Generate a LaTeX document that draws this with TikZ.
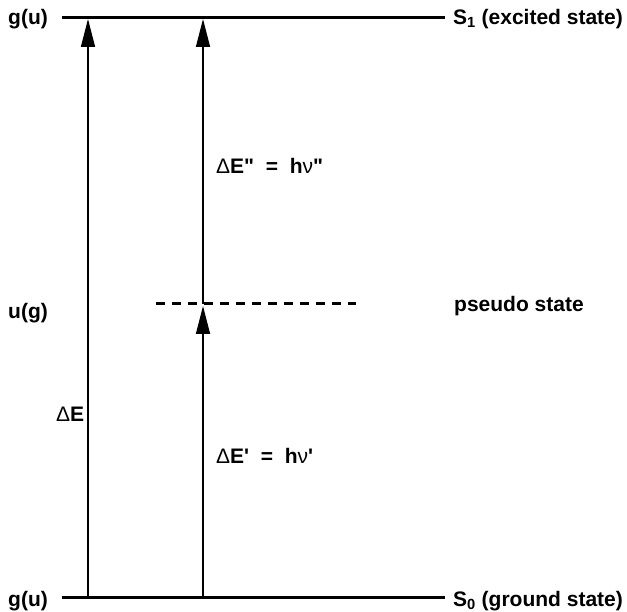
\documentclass[tikz,border=0pt]{standalone}
\usepackage{fontspec}
\setmainfont{Liberation Sans}
\usetikzlibrary{arrows.meta}

\begin{document}
\begin{tikzpicture}[x=1pt,y=-1pt,>={Triangle[length=28pt,width=14pt]},font=\fontsize{21}{25}\selectfont\bfseries,
  lbl/.style={anchor=west,inner sep=0pt}]
\useasboundingbox (0,0) rectangle (627,612);
% Energy levels.
\coordinate (top-l) at (62,18);   \coordinate (top-r) at (445,18);
\coordinate (bot-l) at (62,597);  \coordinate (bot-r) at (445,597);
\coordinate (ps-l) at (156,304);  \coordinate (ps-r) at (356,304);
\draw[line width=3pt] (top-l)--(top-r);
\draw[line width=3pt] (bot-l)--(bot-r);
\draw[line width=3pt,dash pattern=on 9pt off 7pt] (ps-l)--(ps-r);
% Transitions.
\coordinate (a0) at (88,596);  \coordinate (a1) at (88,19);
\coordinate (b0) at (203,596); \coordinate (b1) at (203,306); \coordinate (b2) at (203,304); \coordinate (b3) at (203,19);
\draw[->,line width=1.5pt] (a0)--(a1);
\draw[->,line width=1.5pt] (b0)--(b1);
\draw[->,line width=1.5pt] (b2)--(b3);
% Labels.
\node[lbl] (gu-top) at (8,19) {g(u)};
\node[lbl] (s1) at (453,19) {S\textsubscript{1} (excited state)};
\node[lbl] (ug) at (8,313) {u(g)};
\node[lbl] (pseudo) at (454,306) {pseudo state};
\node[lbl] (gu-bot) at (8,601) {g(u)};
\node[lbl] (s0) at (453,601) {S\textsubscript{0} (ground state)};
\node[lbl] (dE) at (56,414) {{\mdseries Δ}E};
\node[lbl] (dE2) at (216,166) {{\mdseries Δ}E\textquotedbl~~=~~h{\mdseries ν}\textquotedbl};
\node[lbl] (dE1) at (216,456) {{\mdseries Δ}E\textquotesingle~~=~~h{\mdseries ν}\textquotesingle};
\end{tikzpicture}
\end{document}
